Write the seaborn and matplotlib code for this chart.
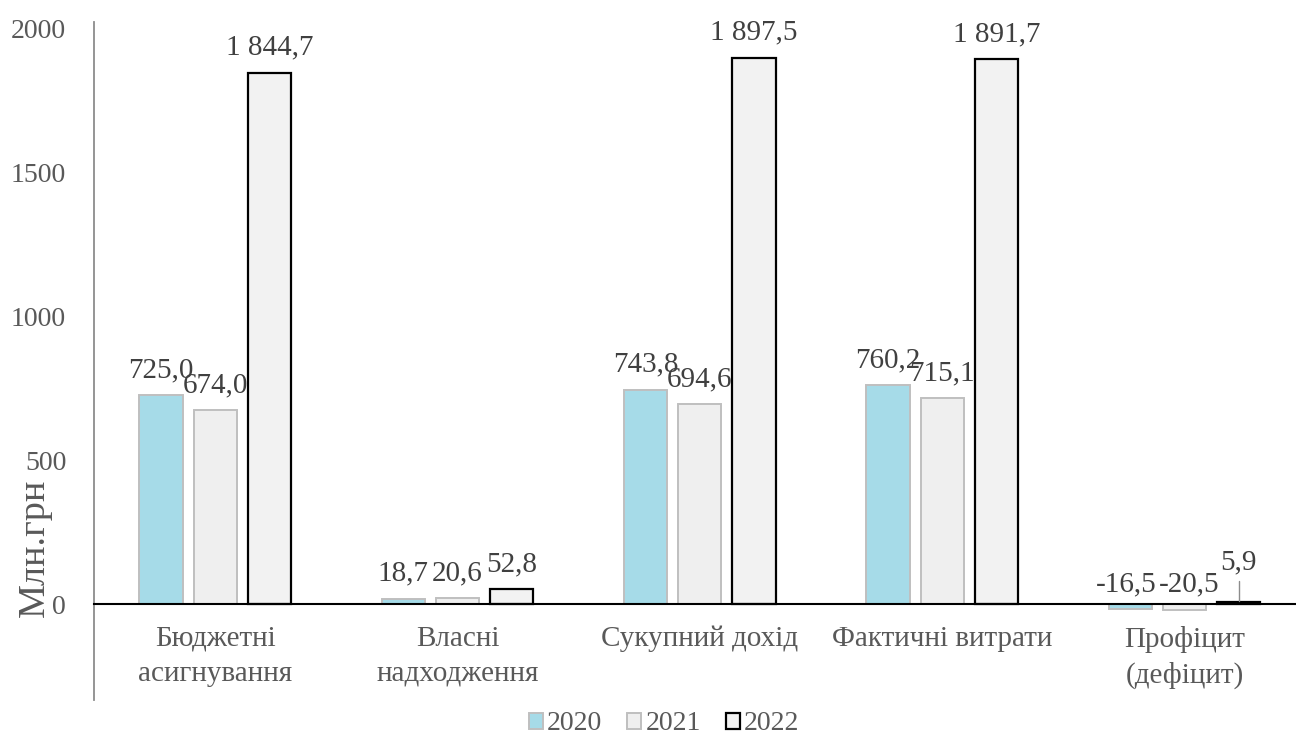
import numpy as np
import pandas as pd
import matplotlib
matplotlib.use("Agg")
import matplotlib.pyplot as plt
import seaborn as sns
from matplotlib.patches import Patch

categories = ["Бюджетні\nасигнування", "Власні\nнадходження", "Сукупний дохід",
              "Фактичні витрати", "Профіцит\n(дефіцит)"]
years = ["2020", "2021", "2022"]
v2020 = [725.0, 18.7, 743.8, 760.2, -16.5]
v2021 = [674.0, 20.6, 694.6, 715.1, -20.5]
v2022 = [1844.7, 52.8, 1897.5, 1891.7, 5.9]
yticks = [0, 500, 1000, 1500, 2000]

fills = {"2020": "#a6dbe8", "2021": "#efefef", "2022": "#f2f2f2"}
edges = {"2020": "#bfbfbf", "2021": "#bfbfbf", "2022": "#000000"}
lws = {"2020": 1.4, "2021": 1.4, "2022": 1.6}

rows = []
for y, vals in zip(years, [v2020, v2021, v2022]):
    for c, v in zip(categories, vals):
        rows.append({"cat": c, "year": y, "value": v})
df = pd.DataFrame(rows)

sns.set_theme(style="white")
plt.rcParams["font.family"] = ["Liberation Serif", "DejaVu Serif"]

W, H = 1296, 740
fig = plt.figure(figsize=(W / 100, H / 100), dpi=100)
ax = fig.add_axes([94 / W, 1 - 700 / H, (W - 94) / W, (700 - 22) / H])

sns.barplot(data=df, x="cat", y="value", hue="year", order=categories,
            hue_order=years, palette=fills, width=0.67, gap=0.2,
            saturation=1, errorbar=None, legend=False, ax=ax)

for cont, y in zip(ax.containers, years):
    for p in cont.patches:
        p.set_edgecolor(edges[y])
        p.set_linewidth(lws[y])

ax.set_xlim(-0.5, 4.46)
ax.set_ylim(-333, 2021)
ax.set_yticks(yticks)
ax.set_yticklabels([str(t) for t in yticks])
ax.set_xlabel("")
ax.set_ylabel("")

for s in ["top", "right"]:
    ax.spines[s].set_visible(False)
ax.spines["left"].set_color("#8c8c8c")
ax.spines["left"].set_linewidth(1.3)
ax.spines["bottom"].set_position(("data", 0))
ax.spines["bottom"].set_color("#000000")
ax.spines["bottom"].set_linewidth(1.5)
ax.spines["bottom"].set_zorder(5)

ax.tick_params(axis="y", length=0, pad=20, labelsize=20, labelcolor="#595959")
ax.tick_params(axis="x", length=0, pad=15.5, labelsize=21, labelcolor="#595959")
for lab in ax.get_xticklabels():
    lab.set_linespacing(1.45)
    lab.set_verticalalignment("top")

def fmt(v):
    return f"{v:,.1f}".replace(",", " ").replace(".", ",")

for cont, y in zip(ax.containers, years):
    for i, p in enumerate(cont.patches):
        v = p.get_height()
        xc = p.get_x() + p.get_width() / 2
        top = max(v, 0)
        off = 18
        dx = 0
        if v < 0:
            off = 14
            dx = -3 if y == "2020" else 3
        if y == "2022" and i == 4:
            off = 29
            ax.plot([xc, xc], [top + 4, top + 75], color="#8c8c8c", lw=1.0,
                    zorder=6)
        ax.annotate(fmt(v), xy=(xc, top), xytext=(dx, off),
                    textcoords="offset points", ha="center", va="center",
                    fontsize=21, color="#404040", zorder=7)

fig.text(35 / W, 1 - 548 / H, "Млн.грн", rotation=90, fontsize=27.5,
         color="#595959", ha="center", va="center")

handles = [Patch(facecolor=fills[y], edgecolor=edges[y], linewidth=lws[y])
           for y in years]
leg = fig.legend(handles, years, loc="center", bbox_to_anchor=(664 / W, 1 - 724 / H),
                 ncol=3, frameon=False, fontsize=20, handlelength=0.5,
                 handleheight=0.5, columnspacing=0.9, handletextpad=0.15)
for t in leg.get_texts():
    t.set_color("#595959")

fig.savefig("out.png", dpi=100)
